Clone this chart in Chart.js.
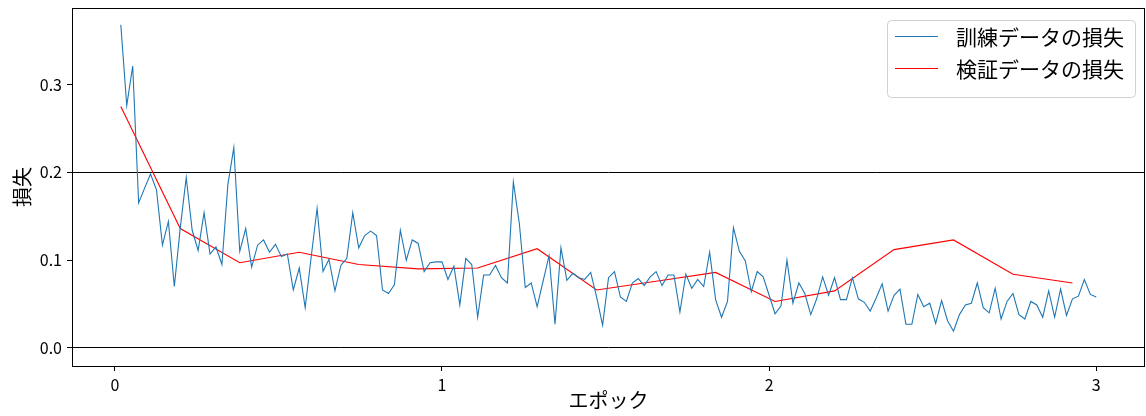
<!DOCTYPE html>
<html>
<head>
<meta charset="utf-8">
<script src="https://cdn.jsdelivr.net/npm/chart.js@4.4.1/dist/chart.umd.min.js"></script>
<style>
  html, body { margin: 0; padding: 0; background: #fff; }
  #wrap { width: 1146px; height: 416px; }
</style>
</head>
<body>
<div id="wrap"><canvas id="c" width="1146" height="416"></canvas></div>
<script>
// Loss logged every step (55 steps per epoch); validation every 10 steps.
const stepsPerEpoch = 55;
const valEvery = 10;

const trainLoss = [
  0.368,0.276,0.321,0.165,0.182,0.198,0.180,0.117,0.144,0.070,
  0.137,0.194,0.134,0.111,0.154,0.107,0.115,0.095,0.186,0.228,
  0.110,0.136,0.092,0.117,0.123,0.109,0.118,0.104,0.107,0.066,
  0.091,0.046,0.103,0.159,0.087,0.101,0.065,0.094,0.102,0.154,
  0.114,0.128,0.133,0.128,0.066,0.062,0.072,0.134,0.100,0.123,
  0.119,0.087,0.097,0.098,0.098,0.078,0.093,0.049,0.102,0.095,
  0.035,0.083,0.083,0.094,0.080,0.074,0.189,0.142,0.069,0.074,
  0.047,0.076,0.105,0.027,0.114,0.077,0.085,0.080,0.078,0.086,
  0.058,0.026,0.080,0.087,0.058,0.053,0.074,0.079,0.071,0.081,
  0.087,0.071,0.083,0.083,0.041,0.084,0.068,0.078,0.070,0.109,
  0.055,0.035,0.053,0.137,0.110,0.099,0.064,0.087,0.081,0.060,
  0.039,0.048,0.100,0.051,0.074,0.062,0.038,0.056,0.081,0.060,
  0.080,0.055,0.055,0.080,0.056,0.052,0.042,0.057,0.073,0.042,
  0.060,0.067,0.027,0.027,0.061,0.047,0.051,0.028,0.054,0.031,
  0.019,0.038,0.049,0.051,0.074,0.046,0.040,0.068,0.033,0.053,
  0.062,0.038,0.033,0.053,0.049,0.035,0.065,0.035,0.067,0.037,
  0.056,0.059,0.078,0.061,0.058
];

const valLoss = [
  0.275,0.136,0.097,0.109,0.095,0.090,0.091,0.113,0.066,
  0.076,0.086,0.053,0.065,0.112,0.123,0.084,0.074
];

const xTicks = [0, 1, 2, 3];
const yTicks = [0.0, 0.1, 0.2, 0.3];
const refLines = [0.0, 0.2];

const seriesNames = ['訓練データの損失', '検証データの損失'];
const xTitle = 'エポック';
const yTitle = '損失';

// step index -> epoch
const trainPoints = trainLoss.map((v, i) => ({ x: (i + 1) / stepsPerEpoch, y: v }));
const valPoints = valLoss.map((v, i) => ({ x: (i * valEvery + 1) / stepsPerEpoch, y: v }));

const FONT = '"Noto Sans CJK JP", "Noto Sans", sans-serif';

// Full frame around the plotting area
const frame = {
  id: 'frame',
  afterDatasetsDraw(chart) {
    const { ctx, chartArea: a } = chart;
    ctx.save();
    ctx.strokeStyle = '#000';
    ctx.lineWidth = 1;
    ctx.strokeRect(a.left + 0.5, a.top + 0.5, a.right - a.left - 1, a.bottom - a.top);
    ctx.restore();
  }
};

// Boxed legend in the upper-right corner of the plot
const boxLegend = {
  id: 'boxLegend',
  afterDraw(chart) {
    const { ctx, chartArea: a } = chart;
    const ds = chart.data.datasets;
    const boxR = a.right - 10, boxT = a.top + 12;
    const boxW = 248, rowH = 32, boxH = 77;
    const boxL = boxR - boxW;
    ctx.save();
    ctx.beginPath();
    ctx.roundRect(boxL + 0.5, boxT + 0.5, boxW, boxH, 4);
    ctx.fillStyle = 'rgba(255,255,255,0.8)';
    ctx.fill();
    ctx.strokeStyle = '#d0d0d0';
    ctx.lineWidth = 1;
    ctx.stroke();
    ctx.font = '21px ' + FONT;
    ctx.textBaseline = 'middle';
    ctx.textAlign = 'left';
    ds.forEach((d, i) => {
      const y = boxT + 16.5 + i * rowH;
      ctx.beginPath();
      ctx.moveTo(boxL + 8, y);
      ctx.lineTo(boxL + 51, y);
      ctx.strokeStyle = d.borderColor;
      ctx.lineWidth = d.borderWidth;
      ctx.stroke();
      ctx.fillStyle = '#000';
      ctx.fillText(d.label, boxL + 69, y + 1);
    });
    ctx.restore();
  }
};

new Chart(document.getElementById('c'), {
  type: 'line',
  data: {
    datasets: [
      { label: seriesNames[0], data: trainPoints, borderColor: '#1f77b4', borderWidth: 1.1,
        pointRadius: 0, tension: 0, fill: false },
      { label: seriesNames[1], data: valPoints, borderColor: '#ff0000', borderWidth: 1.1,
        pointRadius: 0, tension: 0, fill: false }
    ]
  },
  options: {
    responsive: false,
    animation: false,
    devicePixelRatio: 1,
    layout: { padding: { top: 8, right: 1, left: 0, bottom: 0 } },
    plugins: { legend: { display: false }, tooltip: { enabled: false } },
    scales: {
      x: {
        type: 'linear',
        min: -0.131, max: 3.149,
        afterBuildTicks: s => { s.ticks = xTicks.map(v => ({ value: v })); },
        afterFit: s => { s.height = 50; s.paddingLeft = 0; s.paddingRight = 0; },
        grid: { drawOnChartArea: false, drawTicks: true, tickLength: 5, tickColor: '#000' },
        border: { display: false },
        ticks: { color: '#000', padding: 4, font: { family: FONT, size: 16 },
                 callback: v => String(v), maxRotation: 0 },
        title: { display: true, text: xTitle, color: '#000', font: { family: FONT, size: 20 },
                 padding: { top: 0, bottom: 4 } }
      },
      y: {
        type: 'linear',
        min: -0.0205, max: 0.387,
        afterBuildTicks: s => { s.ticks = yTicks.map(v => ({ value: v })); },
        afterFit: s => { s.width = 72; s.paddingTop = 0; s.paddingBottom = 0; },
        grid: {
          drawTicks: true, tickLength: 5, tickColor: '#000', lineWidth: 1,
          color: c => (c.tick && refLines.some(r => Math.abs(r - c.tick.value) < 1e-9)) ? '#000' : 'rgba(0,0,0,0)'
        },
        border: { display: false },
        ticks: { color: '#000', padding: 5, font: { family: FONT, size: 16 },
                 callback: v => Number(v).toFixed(1) },
        title: { display: true, text: yTitle, color: '#000', font: { family: FONT, size: 20 },
                 padding: { top: 10, bottom: 0 } }
      }
    }
  },
  plugins: [frame, boxLegend]
});
</script>
</body>
</html>
